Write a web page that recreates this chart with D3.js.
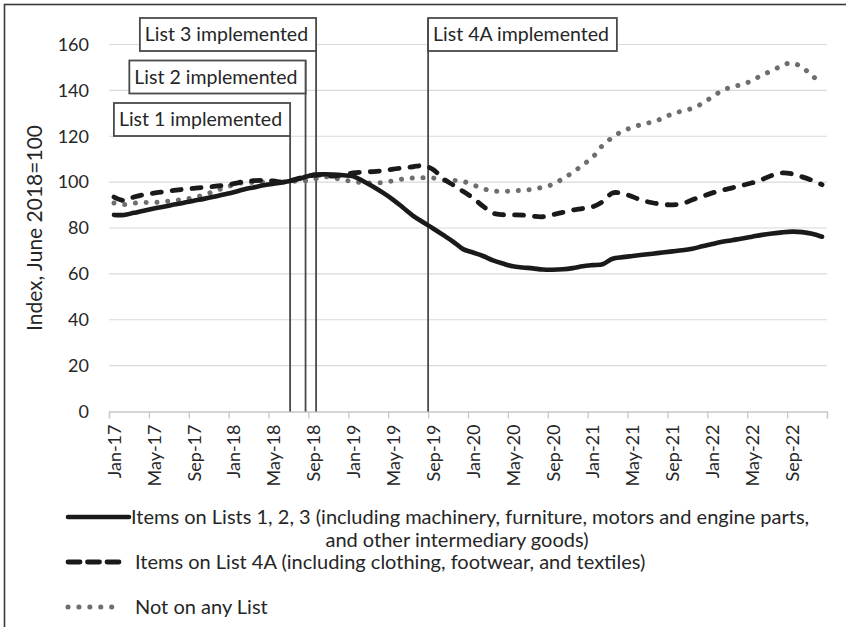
<!DOCTYPE html>
<html>
<head>
<meta charset="utf-8">
<script src="https://cdn.jsdelivr.net/npm/d3@7"></script>
<style>
  body { margin: 0; background: #fff; }
  svg { display: block; font-family: Lato, 'Open Sans', sans-serif; }
</style>
</head>
<body>
<div id="chart"></div>
<script>
// monthly index values, Jan-17 .. Dec-22 (June 2018 = 100)
const months = d3.timeMonths(new Date(2017, 0, 1), new Date(2023, 0, 1));

const tickLabels = [
  'Jan-17', 'May-17', 'Sep-17', 'Jan-18', 'May-18', 'Sep-18',
  'Jan-19', 'May-19', 'Sep-19', 'Jan-20', 'May-20', 'Sep-20',
  'Jan-21', 'May-21', 'Sep-21', 'Jan-22', 'May-22', 'Sep-22'
];

const yTicks = [0, 20, 40, 60, 80, 100, 120, 140, 160];

const lists123 = [
  85.7, 85.7, 86.6, 87.5, 88.5, 89.3, 90.2, 91.0, 91.9, 92.7, 93.6, 94.6,
  95.6, 96.8, 97.7, 98.6, 99.3, 100.0, 100.8, 102.0, 103.2, 103.4, 103.3, 103.0,
  102.5, 100.4, 98.0, 95.3, 92.3, 88.8, 85.3, 82.5, 79.8, 77.0, 74.1, 70.8,
  69.3, 67.8, 65.9, 64.5, 63.3, 62.8, 62.4, 61.9, 61.8, 62.0, 62.5, 63.3,
  63.8, 64.2, 66.6, 67.3, 67.8, 68.3, 68.8, 69.3, 69.8, 70.3, 71.0, 72.0,
  73.0, 74.0, 74.7, 75.4, 76.2, 77.0, 77.6, 78.1, 78.4, 78.2, 77.5, 76.2
];

const list4A = [
  93.5, 92.0, 93.5, 94.5, 95.2, 95.8, 96.4, 96.9, 97.3, 97.7, 98.1, 98.6,
  99.3, 100.2, 100.6, 100.8, 100.5, 100.0, 101.0, 102.2, 103.0, 103.0, 102.6, 103.2,
  104.0, 104.4, 104.6, 105.0, 105.7, 106.2, 106.7, 107.2, 105.5, 101.5, 98.8, 96.0,
  93.1, 89.5, 86.5, 85.8, 85.7, 85.6, 85.1, 84.9, 85.8, 86.8, 87.8, 88.5,
  89.3, 91.5, 95.3, 95.0, 93.6, 92.0, 91.0, 90.3, 90.1, 90.6, 92.3, 93.8,
  95.3, 96.5, 97.5, 98.6, 99.7, 101.2, 103.0, 104.0, 103.6, 102.3, 100.8, 98.9
];

const notOnList = [
  90.9, 90.2, 90.8, 91.1, 91.1, 91.5, 92.0, 92.5, 93.3, 94.4, 95.9, 97.5,
  98.8, 99.8, 99.9, 100.1, 100.0, 100.0, 100.4, 100.5, 101.2, 102.3, 101.9, 100.9,
  100.3, 99.7, 99.6, 99.9, 100.6, 101.4, 101.8, 101.9, 101.8, 100.8, 100.8, 100.3,
  98.8, 97.2, 96.1, 96.0, 96.2, 96.5, 96.9, 97.8, 99.0, 101.5, 104.2, 107.5,
  110.8, 116.0, 119.5, 122.3, 123.8, 125.3, 126.2, 127.8, 129.8, 131.0, 132.2, 134.3,
  137.2, 139.9, 141.6, 142.6, 144.3, 146.7, 148.6, 150.8, 152.0, 150.0, 146.5, 142.5
];

const seriesNames = [
  'Items on Lists 1, 2, 3 (including machinery, furniture, motors and engine parts,|and other intermediary goods)',
  'Items on List 4A (including clothing, footwear, and textiles)',
  'Not on any List'
];

const eventLabels = ['List 1 implemented', 'List 2 implemented', 'List 3 implemented', 'List 4A implemented'];
const eventDates = ['2018-07-06', '2018-08-23', '2018-09-24', '2019-09-01'];

const render = () => {
  const width = 846;
  const height = 627;
  const plot = { left: 109, right: 827, top: 44.5, bottom: 411.5 };

  const svg = d3
    .select('#chart')
    .append('svg')
    .attr('width', width)
    .attr('height', height);

  // outer chart border (cropped on right and bottom)
  svg
    .append('rect')
    .attr('x', 4.5)
    .attr('y', 4.5)
    .attr('width', width + 10)
    .attr('height', height + 10)
    .attr('fill', 'none')
    .attr('stroke', '#3a3a3a')
    .attr('stroke-width', 1.6);

  const xScale = d3.scaleLinear().domain([0, months.length]).range([plot.left, plot.right]);
  const yScale = d3.scaleLinear().domain([0, 160]).range([plot.bottom, plot.top]);

  // gridlines
  svg
    .append('g')
    .selectAll('line')
    .data(yTicks.filter((d) => d > 0))
    .enter()
    .append('line')
    .attr('x1', plot.left)
    .attr('x2', plot.right)
    .attr('y1', (d) => yScale(d))
    .attr('y2', (d) => yScale(d))
    .attr('stroke', '#d9d9d9')
    .attr('stroke-width', 1.2);

  // y axis labels
  const yAxis = d3.axisLeft(yScale).tickValues(yTicks).tickSize(0).tickPadding(20);
  const yAxisGroup = svg.append('g').attr('transform', `translate(${plot.left}, 0)`).call(yAxis);
  yAxisGroup.select('.domain').remove();
  yAxisGroup
    .selectAll('text')
    .attr('font-family', 'Lato')
    .attr('font-size', 18)
    .attr('fill', '#262626');

  // x axis ticks (between categories)
  const tickIdx = d3.range(0, months.length + 1, 4);
  const xAxis = d3.axisBottom(xScale).tickValues(tickIdx).tickSize(7).tickFormat('');
  const xAxisGroup = svg.append('g').attr('transform', `translate(0, ${plot.bottom})`).call(xAxis);
  xAxisGroup.select('.domain').attr('stroke', '#c8c8c8').attr('stroke-width', 1.3);
  xAxisGroup.selectAll('.tick line').attr('stroke', '#c8c8c8').attr('stroke-width', 1.3);

  // x axis labels (centred on categories)
  const labelIdx = tickLabels.map((d, i) => i * 4 + 0.5);
  const xLabelAxis = d3
    .axisBottom(xScale)
    .tickValues(labelIdx)
    .tickSize(0)
    .tickFormat((d, i) => tickLabels[i]);
  const xLabelGroup = svg.append('g').attr('transform', `translate(0, ${plot.bottom})`).call(xLabelAxis);
  xLabelGroup.select('.domain').remove();
  xLabelGroup
    .selectAll('text')
    .attr('font-family', 'Lato')
    .attr('font-size', 18)
    .attr('fill', '#262626')
    .attr('transform', 'rotate(-90)')
    .attr('text-anchor', 'end')
    .attr('x', -13)
    .attr('y', 0)
    .attr('dy', '0.35em');

  // y axis title
  svg
    .append('text')
    .attr('transform', `translate(35, ${(plot.top + plot.bottom) / 2}) rotate(-90)`)
    .attr('text-anchor', 'middle')
    .attr('dy', '0.35em')
    .attr('font-size', 21)
    .attr('fill', '#262626')
    .text('Index, June 2018=100');

  // event markers
  const monthPos = (s) => {
    const [y, m, d] = s.split('-').map(Number);
    const days = new Date(y, m, 0).getDate();
    return (y - 2017) * 12 + (m - 1) + (d - 1) / days;
  };
  const boxRow = [2, 1, 0, 0];
  const boxAlign = ['right', 'right', 'right', 'left'];
  const events = eventLabels.map((label, i) => ({
    label,
    x: xScale(monthPos(eventDates[i])),
    top: 18 + boxRow[i] * 42.5,
    align: boxAlign[i]
  }));

  const ev = svg.append('g').selectAll('g').data(events).enter().append('g');
  ev.append('line')
    .attr('x1', (d) => d.x)
    .attr('x2', (d) => d.x)
    .attr('y1', (d) => d.top)
    .attr('y2', plot.bottom)
    .attr('stroke', '#4a4a4a')
    .attr('stroke-width', 1.8);

  // series lines
  const series = [
    { values: lists123, color: '#1a1a1a', width: 4.6, dash: null },
    { values: list4A, color: '#1a1a1a', width: 4.8, dash: '9 11' },
    { values: notOnList, color: '#6e6e6e', width: 5, dash: '0.1 10.7' }
  ];

  const line = d3
    .line()
    .x((d, i) => xScale(i + 0.5))
    .y((d) => yScale(d))
    .curve(d3.curveCatmullRom.alpha(0.5));

  svg
    .append('g')
    .selectAll('path')
    .data(series.slice().reverse())
    .enter()
    .append('path')
    .attr('d', (d) => line(d.values))
    .attr('fill', 'none')
    .attr('stroke', (d) => d.color)
    .attr('stroke-width', (d) => d.width)
    .attr('stroke-linecap', 'round')
    .attr('stroke-linejoin', 'round')
    .attr('stroke-dasharray', (d) => d.dash);

  // event boxes on top
  const evBox = svg.append('g').selectAll('g').data(events).enter().append('g');
  const boxRect = evBox.append('rect');
  const boxText = evBox
    .append('text')
    .attr('font-size', 19.5)
    .attr('fill', '#262626')
    .attr('dy', '0.35em')
    .text((d) => d.label);
  boxText.each(function (d) {
    const w = this.getComputedTextLength();
    d.w = w + 13;
    d.bx = d.align === 'right' ? d.x - d.w : d.x;
  });
  boxText.attr('x', (d) => d.bx + 5).attr('y', (d) => d.top + 16.5);
  boxRect
    .attr('x', (d) => d.bx)
    .attr('y', (d) => d.top)
    .attr('width', (d) => d.w)
    .attr('height', 33)
    .attr('fill', '#fff')
    .attr('stroke', '#4a4a4a')
    .attr('stroke-width', 1.8);

  // legend
  const legendRows = [517, 562, 607];
  const legend = svg
    .append('g')
    .selectAll('g')
    .data(series)
    .enter()
    .append('g')
    .attr('transform', (d, i) => `translate(0, ${legendRows[i]})`);

  legend
    .append('line')
    .attr('x1', 68)
    .attr('x2', (d, i) => (i === 0 ? 129 : 122))
    .attr('stroke', (d) => d.color)
    .attr('stroke-width', (d) => d.width)
    .attr('stroke-linecap', 'round')
    .attr('stroke-dasharray', (d, i) => (i === 1 ? '12 7.5' : i === 2 ? '0.1 10.8' : null));

  legend.each(function (d, i) {
    const parts = seriesNames[i].split('|');
    const t = d3
      .select(this)
      .append('text')
      .attr('font-size', 20)
      .attr('fill', '#262626')
      .attr('dy', '0.35em');
    t.append('tspan').attr('x', i === 1 || i === 2 ? 135 : 131).text(parts[0]);
    if (parts[1]) {
      t.append('tspan').attr('x', 457).attr('text-anchor', 'middle').attr('dy', '1.15em').text(parts[1]);
    }
  });
};

render();
</script>
</body>
</html>
